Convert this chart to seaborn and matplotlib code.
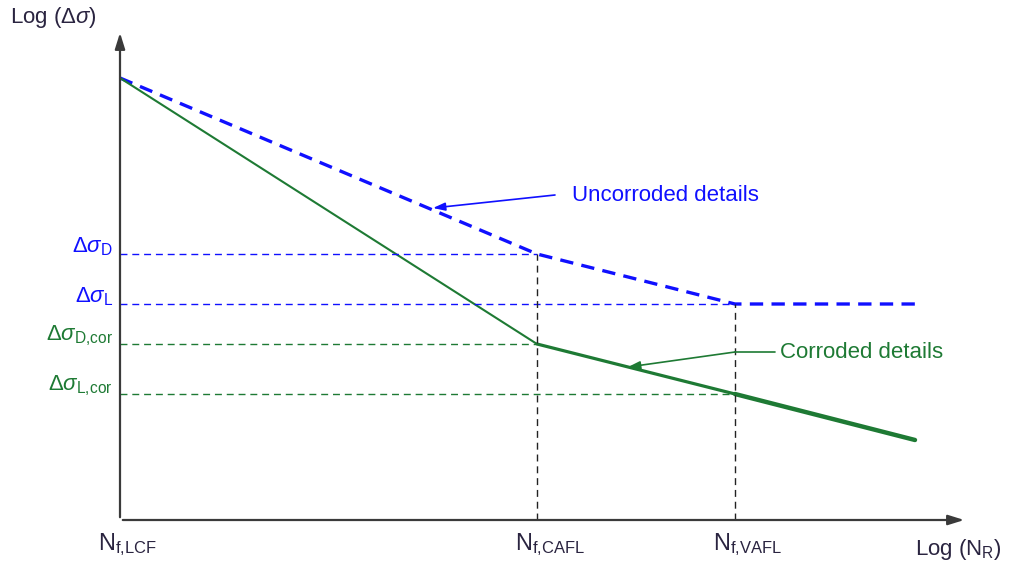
import matplotlib
matplotlib.use("Agg")
import matplotlib.pyplot as plt
import seaborn as sns
import pandas as pd

# schematic S-N curve (log N on x, log stress range on y, arbitrary units)
x_pts = [0.0, 4.17, 6.15, 7.95]
blue_y = [4.42, 2.66, 2.16, 2.16]     # uncorroded details
green_y = [4.42, 1.76, 1.26, 0.80]    # corroded details
y_levels = [2.66, 2.16, 1.76, 1.26]
y_labels = [r"$\Delta\sigma_{\mathrm{D}}$", r"$\Delta\sigma_{\mathrm{L}}$",
            r"$\Delta\sigma_{\mathrm{D{,}cor}}$", r"$\Delta\sigma_{\mathrm{L{,}cor}}$"]
x_labels = [r"$\mathrm{N}_{\mathrm{f{,}LCF}}$", r"$\mathrm{N}_{\mathrm{f{,}CAFL}}$",
            r"$\mathrm{N}_{\mathrm{f{,}VAFL}}$"]

BLUE = "#1010ff"
GREEN = "#1e7a34"
AXC = "#3a3a3a"
TXT = "#2a2440"

sns.set_theme(style="white")
plt.rcParams['font.family'] = ['Liberation Sans', 'DejaVu Sans']
plt.rcParams['mathtext.fontset'] = 'custom'
plt.rcParams['mathtext.rm'] = 'Liberation Sans'
plt.rcParams['mathtext.it'] = 'Liberation Sans:italic'
plt.rcParams['mathtext.bf'] = 'Liberation Sans:bold'

fig = plt.figure(figsize=(10.13, 5.68), dpi=100)
ax = fig.add_axes([0, 0, 1, 1])
ax.set_xlim(-1.20, 8.93)
ax.set_ylim(-0.48, 5.20)
ax.axis("off")

blue_df = pd.DataFrame({"x": x_pts, "y": blue_y})
sns.lineplot(data=blue_df, x="x", y="y", ax=ax, color=BLUE, lw=2.4,
             linestyle=(0, (4, 2.5)), sort=False)

# corroded curve gets thicker towards high cycles
green_df = pd.DataFrame({"x": x_pts, "y": green_y})
sns.lineplot(data=green_df.iloc[:2], x="x", y="y", ax=ax, color=GREEN, lw=1.5, sort=False)
sns.lineplot(data=green_df.iloc[1:3], x="x", y="y", ax=ax, color=GREEN, lw=2.3, sort=False)
sns.lineplot(data=green_df.iloc[2:], x="x", y="y", ax=ax, color=GREEN, lw=3.2, sort=False)

# reference dashed lines
ref_x = [x_pts[1], x_pts[2], x_pts[1], x_pts[2]]
ref_c = [BLUE, BLUE, GREEN, GREEN]
for yl, xr, c, lab in zip(y_levels, ref_x, ref_c, y_labels):
    ax.plot([0, xr], [yl, yl], color=c, lw=1, linestyle=(0, (5, 3.5)))
    ax.text(-0.07, yl - 0.04, lab, color=c, fontsize=16, ha="right", va="bottom")
for xv, yv in zip(x_pts[1:3], blue_y[1:3]):
    ax.plot([xv, xv], [0, yv], color="#222222", lw=1, linestyle=(0, (5, 3.5)))

# axes with arrows
ax.annotate("", xy=(0, 4.90), xytext=(0, 0),
            arrowprops=dict(arrowstyle="-|>,head_length=0.8,head_width=0.25",
                            color=AXC, lw=1.6))
ax.annotate("", xy=(8.47, 0), xytext=(0, 0),
            arrowprops=dict(arrowstyle="-|>,head_length=0.8,head_width=0.25",
                            color=AXC, lw=1.6))
ax.text(-1.10, 5.02, r"Log ($\Delta\sigma$)", fontsize=16, color=TXT, va="center")
ax.text(7.95, -0.30, r"Log ($\mathrm{N}_{\mathrm{R}}$)", fontsize=16, color=TXT, va="center")

for xv, lab in zip(x_pts[:3], x_labels):
    ax.text(xv - 0.22, -0.25, lab, fontsize=17, color=TXT, va="center")

# curve annotations
ax.text(4.52, 3.24, "Uncorroded details", color=BLUE, fontsize=16, va="center")
ax.annotate("", xy=(3.13, 3.12), xytext=(4.35, 3.25),
            arrowprops=dict(arrowstyle="-|>,head_length=0.6,head_width=0.2",
                            color=BLUE, lw=1.2, shrinkA=0, shrinkB=0))
ax.text(6.60, 1.67, "Corroded details", color=GREEN, fontsize=16, va="center")
ax.plot([6.15, 6.55], [1.68, 1.68], color=GREEN, lw=1.2)
ax.annotate("", xy=(5.08, 1.53), xytext=(6.15, 1.68),
            arrowprops=dict(arrowstyle="-|>,head_length=0.6,head_width=0.2",
                            color=GREEN, lw=1.2, shrinkA=0, shrinkB=0))

fig.savefig("out.png", dpi=100)
